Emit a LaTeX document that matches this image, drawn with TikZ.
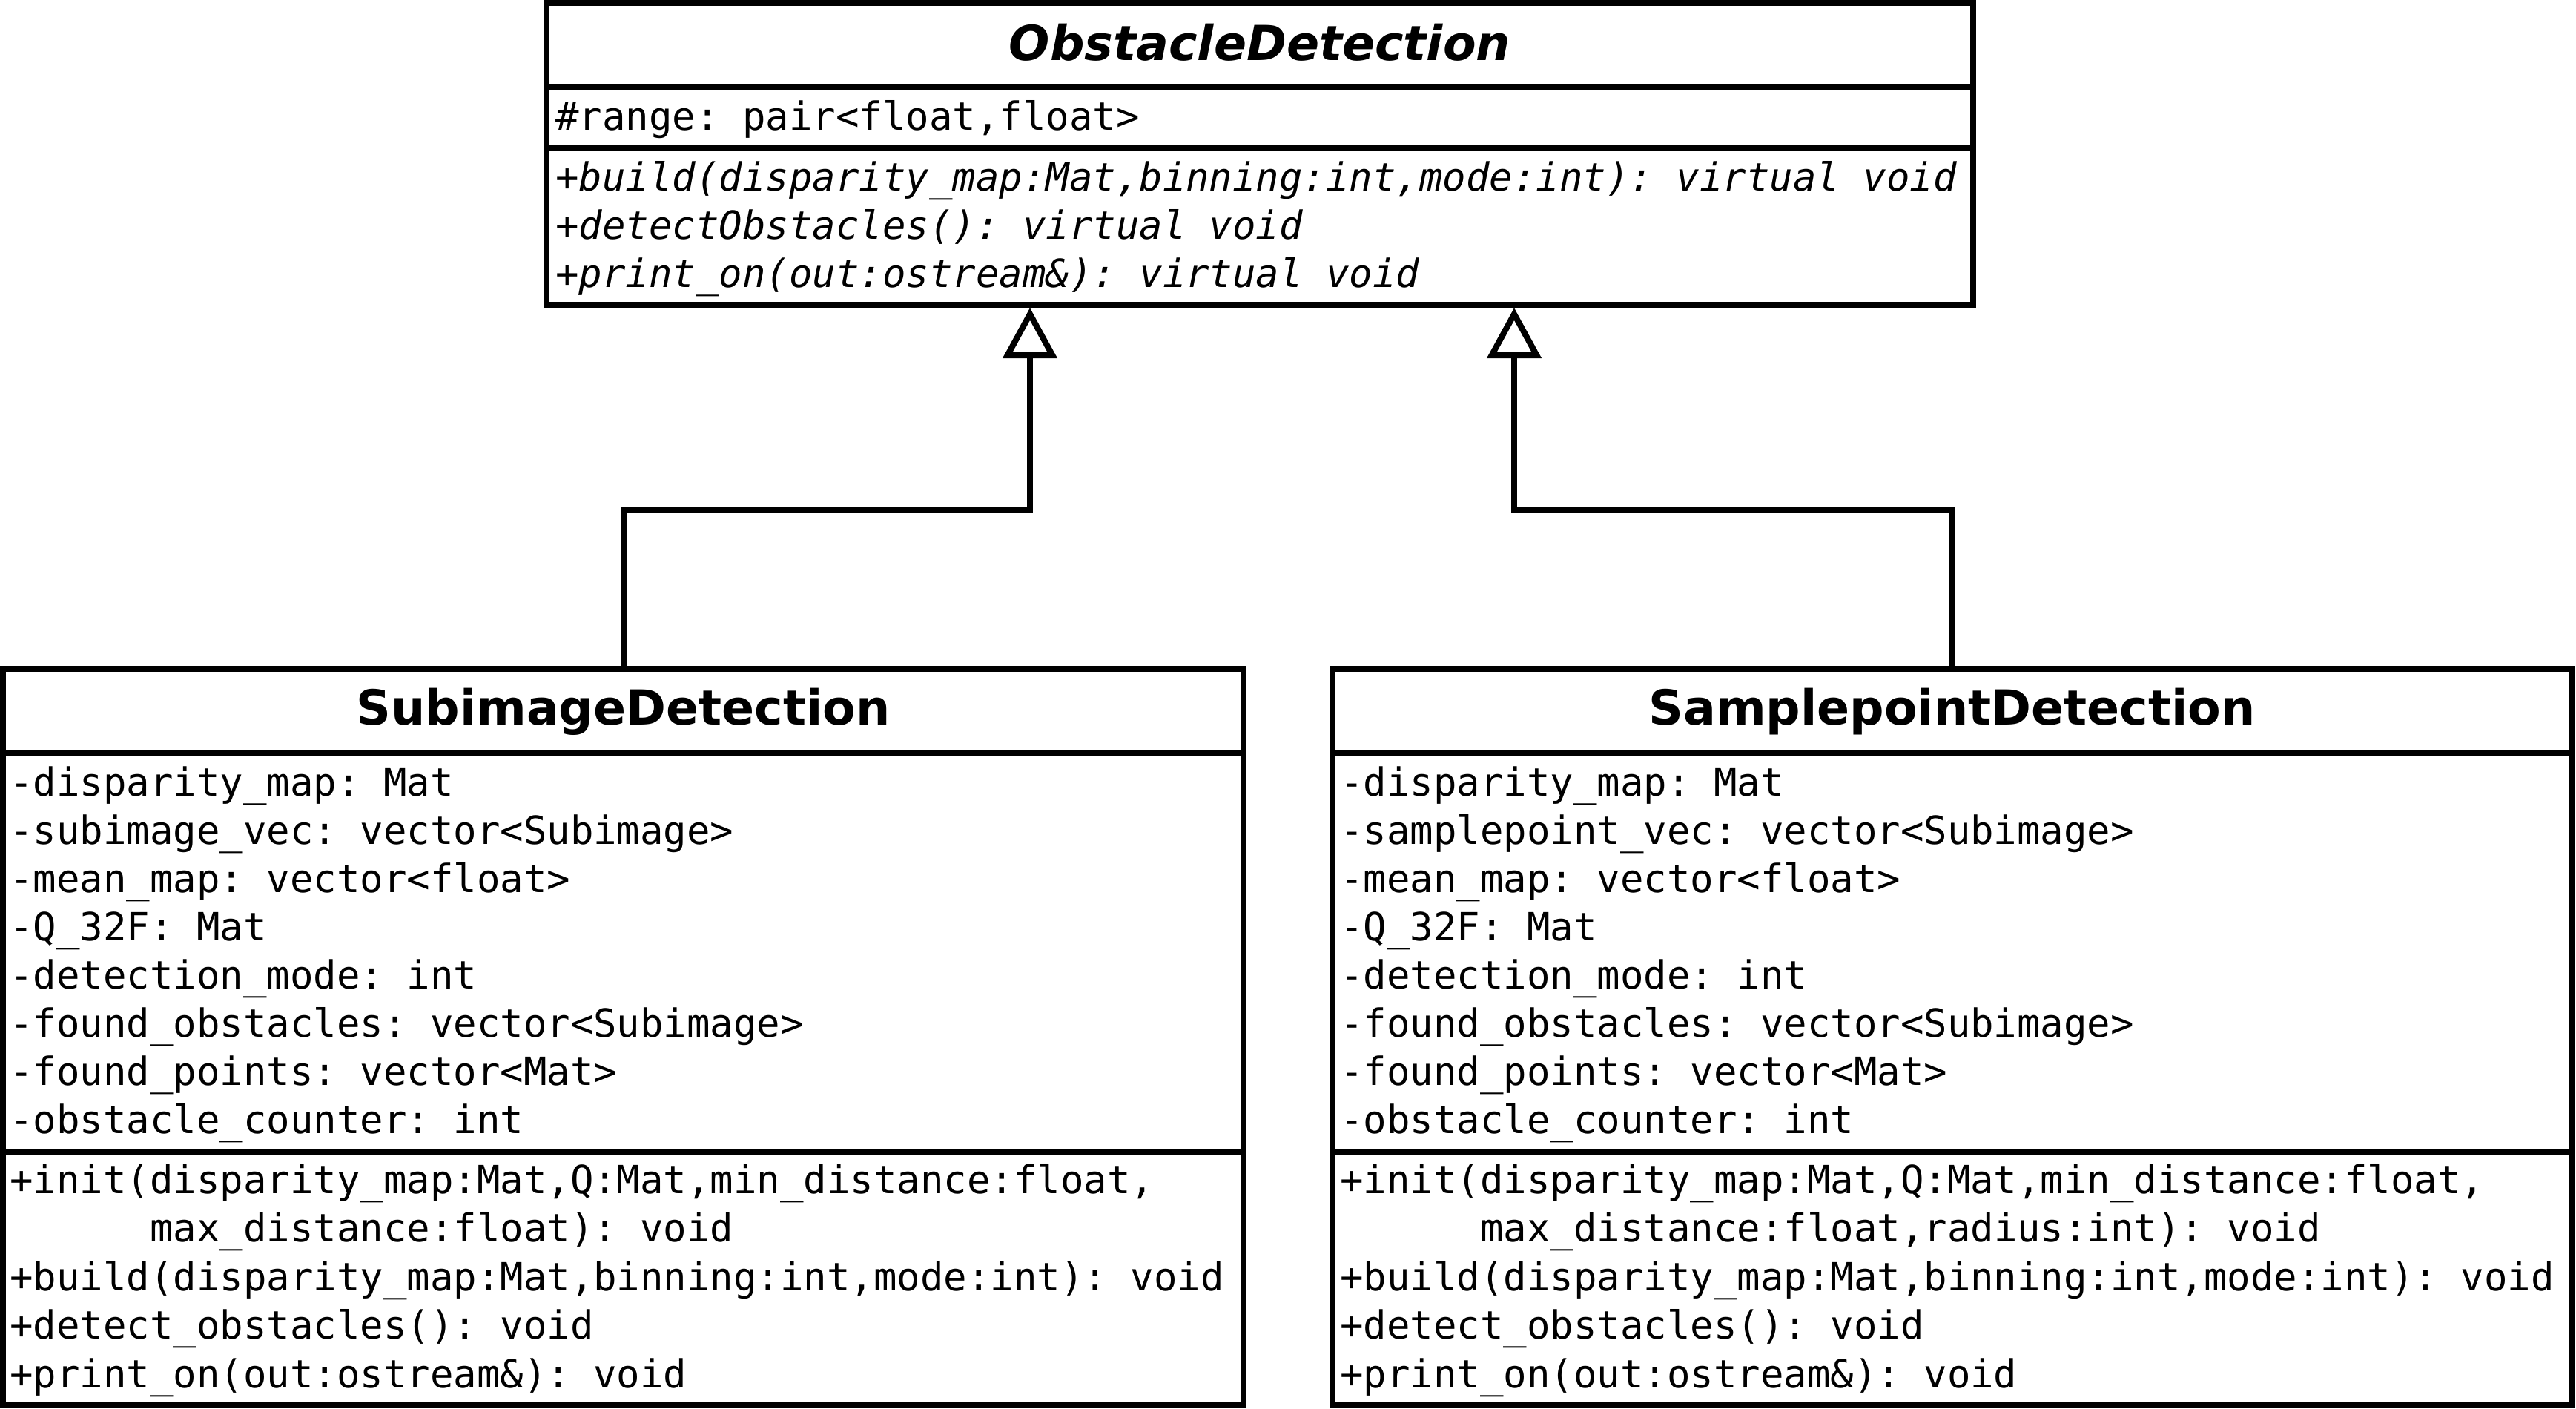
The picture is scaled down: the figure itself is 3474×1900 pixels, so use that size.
\documentclass[tikz,border=0pt]{standalone}
\usepackage{fontspec}
\usetikzlibrary{arrows.meta}
\newfontfamily\monof{DejaVu Sans Mono}
\newfontfamily\titlef{DejaVu Sans}
\frenchspacing
\begin{document}
\begin{tikzpicture}[x=0.5pt,y=-0.5pt,
  classbox/.style={draw=black,line width=4pt,fill=white,inner sep=0pt,outer sep=2pt},
  divider/.style={line width=4pt},
  member/.style={anchor=base west,inner sep=0pt,font=\frenchspacing\monof\fontsize{26.15pt}{32pt}\selectfont},
  abstractm/.style={anchor=base west,inner sep=0pt,font=\frenchspacing\monof\itshape\fontsize{26.15pt}{32pt}\selectfont},
  ctitle/.style={anchor=base,inner sep=0pt,font=\titlef\bfseries\fontsize{32.5pt}{38pt}\selectfont},
  inherit/.style={line width=4pt,-{Triangle[open,length=34pt,width=36pt]}}]
\fill[white] (0,0) rectangle (3474,1900);
\useasboundingbox (0,0) rectangle (3474,1900);

% ObstacleDetection
\node[classbox,minimum width=962pt,minimum height=203.5pt] (obs) at (1699,207.5) {};
\draw[divider] (737,117) -- (2661,117);
\draw[divider] (737,199) -- (2661,199);
\node[ctitle,font=\titlef\bfseries\itshape\fontsize{32.5pt}{38pt}\selectfont] (obst) at (1699,82) {ObstacleDetection};
\node[member] (oa1) at (749,176) {\#range: pair<float,float>};
\node[abstractm] (om1) at (749,257) {+build(disparity\_map:Mat,binning:int,mode:int): virtual void};
\node[abstractm] (om2) at (749,322) {+detectObstacles(): virtual void};
\node[abstractm] (om3) at (749,387) {+print\_on(out:ostream\&): virtual void};

% SubimageDetection
\node[classbox,minimum width=836.5pt,minimum height=496pt] (sub) at (840.5,1398) {};
\draw[divider] (4,1016) -- (1677,1016);
\draw[divider] (4,1553) -- (1677,1553);
\node[ctitle] (subt) at (840.5,977) {SubimageDetection};
\foreach \t [count=\i from 0] in {{-disparity\_map: Mat},{-subimage\_vec: vector<Subimage>},{-mean\_map: vector<float>},{-Q\_32F: Mat},{-detection\_mode: int},{-found\_obstacles: vector<Subimage>},{-found\_points: vector<Mat>},{-obstacle\_counter: int}}
  \node[member] (sa\i) at (13,1073+65*\i) {\t};
\foreach \t [count=\i from 0] in {{+init(disparity\_map:Mat,Q:Mat,min\_distance:float,},{\phantom{xxxxxx}max\_distance:float): void},{+build(disparity\_map:Mat,binning:int,mode:int): void},{+detect\_obstacles(): void},{+print\_on(out:ostream\&): void}}
  \node[member] (sm\i) at (13,1609+65.5*\i) {\t};

% SamplepointDetection
\node[classbox,minimum width=835.5pt,minimum height=496pt] (samp) at (2632.5,1398) {};
\draw[divider] (1797,1016) -- (3468,1016);
\draw[divider] (1797,1553) -- (3468,1553);
\node[ctitle] (sampt) at (2632.5,977) {SamplepointDetection};
\foreach \t [count=\i from 0] in {{-disparity\_map: Mat},{-samplepoint\_vec: vector<Subimage>},{-mean\_map: vector<float>},{-Q\_32F: Mat},{-detection\_mode: int},{-found\_obstacles: vector<Subimage>},{-found\_points: vector<Mat>},{-obstacle\_counter: int}}
  \node[member] (pa\i) at (1807,1073+65*\i) {\t};
\foreach \t [count=\i from 0] in {{+init(disparity\_map:Mat,Q:Mat,min\_distance:float,},{\phantom{xxxxxx}max\_distance:float,radius:int): void},{+build(disparity\_map:Mat,binning:int,mode:int): void},{+detect\_obstacles(): void},{+print\_on(out:ostream\&): void}}
  \node[member] (pm\i) at (1807,1609+65.5*\i) {\t};

% inheritance
\coordinate (jl) at (1389,688);
\coordinate (jr) at (2042,688);
\draw[inherit] (sub.north) |- (jl) -- (jl |- obs.south);
\draw[inherit] (samp.north) |- (jr) -- (jr |- obs.south);
\end{tikzpicture}
\end{document}
